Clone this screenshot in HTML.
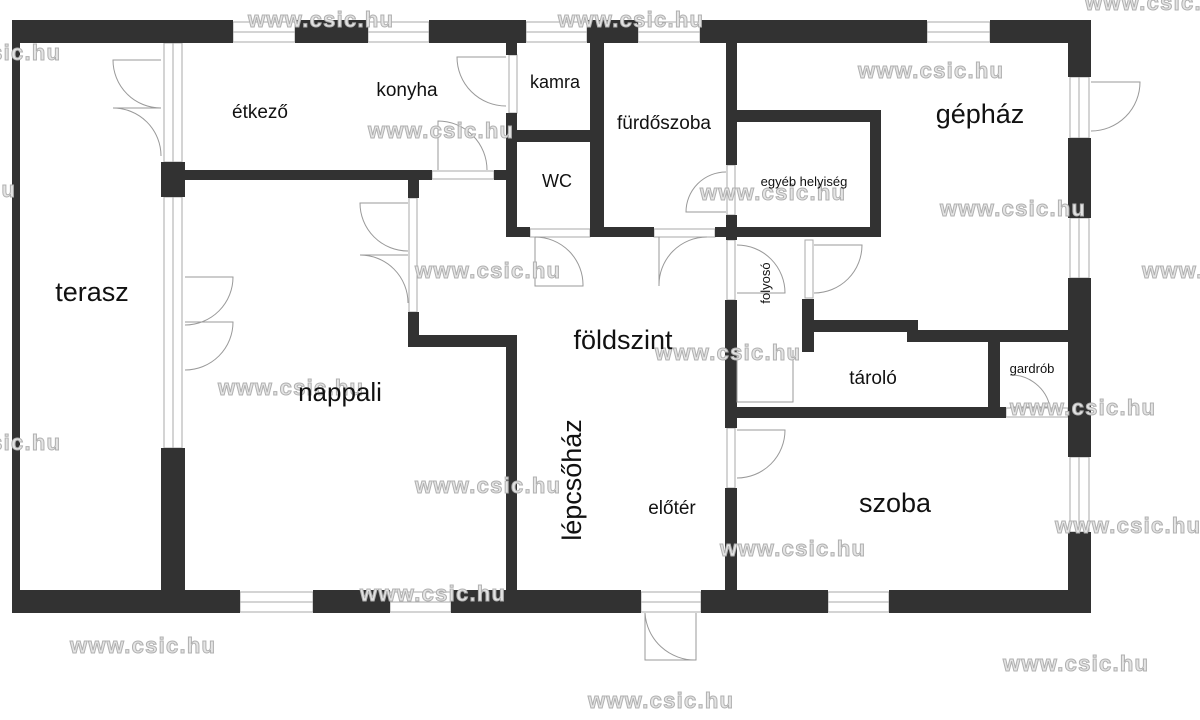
<!DOCTYPE html>
<html><head><meta charset="utf-8"><style>
html,body{margin:0;padding:0;background:#fff;}
svg{display:block;}
.w{fill:#323232;}
.win{fill:#fff;stroke:#aaa;stroke-width:1;}
.d{fill:none;stroke:#999;stroke-width:1;}
.t{font-family:"Liberation Sans",sans-serif;fill:#111;}
.wm{font-family:"Liberation Sans",sans-serif;font-weight:bold;font-size:22px;fill:#e4e4e4;stroke:#b0b0b0;stroke-width:1;}
</style></head><body>
<svg width="1200" height="720" viewBox="0 0 1200 720" xmlns="http://www.w3.org/2000/svg">
<rect width="1200" height="720" fill="#fff"/>
<g class="win">
<rect x="233" y="22" width="62" height="20"/><line x1="233" y1="32" x2="295" y2="32" stroke="#aaa"/>
<rect x="368" y="22" width="61" height="20"/><line x1="368" y1="32" x2="429" y2="32" stroke="#aaa"/>
<rect x="526" y="22" width="61" height="20"/><line x1="526" y1="32" x2="587" y2="32" stroke="#aaa"/>
<rect x="638" y="22" width="62" height="20"/><line x1="638" y1="32" x2="700" y2="32" stroke="#aaa"/>
<rect x="927" y="22" width="63" height="20"/><line x1="927" y1="32" x2="990" y2="32" stroke="#aaa"/>
<rect x="240" y="592" width="73" height="20"/><line x1="240" y1="602" x2="313" y2="602" stroke="#aaa"/>
<rect x="390" y="592" width="61" height="20"/><line x1="390" y1="602" x2="451" y2="602" stroke="#aaa"/>
<rect x="641" y="592" width="60" height="20"/><line x1="641" y1="602" x2="701" y2="602" stroke="#aaa"/>
<rect x="828" y="592" width="61" height="20"/><line x1="828" y1="602" x2="889" y2="602" stroke="#aaa"/>
<rect x="1070" y="77" width="19" height="61"/><line x1="1079" y1="77" x2="1079" y2="138" stroke="#aaa"/>
<rect x="1070" y="218" width="19" height="60"/><line x1="1079" y1="218" x2="1079" y2="278" stroke="#aaa"/>
<rect x="1070" y="457" width="19" height="75"/><line x1="1079" y1="457" x2="1079" y2="532" stroke="#aaa"/>
<rect x="164" y="43" width="18" height="119"/><line x1="173" y1="43" x2="173" y2="162" stroke="#aaa"/>
<rect x="164" y="197" width="18" height="251"/><line x1="173" y1="197" x2="173" y2="448" stroke="#aaa"/>
<rect x="509" y="55" width="8" height="58"/>
<rect x="432" y="171" width="62" height="8"/>
<rect x="530" y="229" width="60" height="8"/>
<rect x="654" y="229" width="61" height="8"/>
<rect x="409" y="198" width="8" height="114"/>
<rect x="727" y="165" width="8" height="50"/>
<rect x="727" y="240" width="8" height="60"/>
<rect x="805" y="240" width="8" height="58"/>
<rect x="727" y="428" width="8" height="60"/>
<rect x="1006" y="408" width="62" height="9"/>
</g>
<g class="w">
<rect x="12" y="20" width="221" height="23"/>
<rect x="295" y="20" width="73" height="23"/>
<rect x="429" y="20" width="97" height="23"/>
<rect x="587" y="20" width="51" height="23"/>
<rect x="700" y="20" width="227" height="23"/>
<rect x="990" y="20" width="101" height="23"/>
<rect x="12" y="20" width="8" height="593"/>
<rect x="12" y="590" width="228" height="23"/>
<rect x="313" y="590" width="77" height="23"/>
<rect x="451" y="590" width="190" height="23"/>
<rect x="701" y="590" width="127" height="23"/>
<rect x="889" y="590" width="202" height="23"/>
<rect x="1068" y="20" width="23" height="57"/>
<rect x="1068" y="138" width="23" height="80"/>
<rect x="1068" y="278" width="23" height="179"/>
<rect x="1068" y="532" width="23" height="81"/>
<rect x="161" y="162" width="24" height="35"/>
<rect x="161" y="448" width="24" height="145"/>
<rect x="185" y="170" width="247" height="10"/>
<rect x="494" y="170" width="15" height="10"/>
<rect x="408" y="180" width="11" height="18"/>
<rect x="408" y="312" width="11" height="35"/>
<rect x="408" y="335" width="109" height="12"/>
<rect x="506" y="335" width="11" height="258"/>
<rect x="506" y="43" width="11" height="12"/>
<rect x="506" y="113" width="11" height="124"/>
<rect x="506" y="130" width="94" height="12"/>
<rect x="506" y="227" width="24" height="10"/>
<rect x="590" y="227" width="64" height="10"/>
<rect x="590" y="43" width="14" height="194"/>
<rect x="715" y="227" width="166" height="10"/>
<rect x="726" y="43" width="11" height="122"/>
<rect x="726" y="215" width="11" height="25"/>
<rect x="737" y="110" width="144" height="12"/>
<rect x="870" y="110" width="11" height="127"/>
<rect x="725" y="300" width="12" height="128"/>
<rect x="725" y="488" width="12" height="105"/>
<rect x="802" y="299" width="12" height="53"/>
<rect x="814" y="320" width="104" height="12"/>
<rect x="907" y="330" width="161" height="12"/>
<rect x="988" y="342" width="12" height="70"/>
<rect x="733" y="407" width="273" height="11"/>
</g>
<g class="d">
<path d="M161,60 H113 A48,48 0 0 0 161,108"/>
<path d="M161,108 H113 A48,48 0 0 1 161,156"/>
<path d="M408,203 H360 A48,48 0 0 0 408,251"/>
<path d="M408,255 H360 A48,48 0 0 1 408,303"/>
<path d="M185,277 H233 A48,48 0 0 1 185,325"/>
<path d="M185,322 H233 A48,48 0 0 1 185,370"/>
<path d="M506,57 H457 A49,49 0 0 0 506,106"/>
<path d="M438,170 V121 A49,49 0 0 1 487,170"/>
<path d="M535,237 V286 H583 A48,48 0 0 0 535,237"/>
<path d="M659,237 V286 A48,48 0 0 1 707,237"/>
<path d="M726,212 H686 A40,40 0 0 1 726,172"/>
<path d="M737,245 A48,48 0 0 1 785,293 H737"/>
<path d="M814,245 H862 A48,48 0 0 1 814,293"/>
<path d="M1091,82 H1140 A49,49 0 0 1 1091,131"/>
<path d="M737,350 V402 H793 V350"/>
<path d="M737,430 H785 A48,48 0 0 1 737,478"/>
<path d="M1010,375 A40,40 0 0 1 1050,407 H1010"/>
<path d="M645,613 V660 H696 V613 M645,613 A50,50 0 0 0 696,660"/>
</g>
<g class="wm">
<text x="248" y="27" textLength="145">www.csic.hu</text>
<text x="558" y="27" textLength="145">www.csic.hu</text>
<text x="1085" y="10" textLength="145">www.csic.hu</text>
<text x="-85" y="60" textLength="145">www.csic.hu</text>
<text x="858" y="78" textLength="145">www.csic.hu</text>
<text x="368" y="138" textLength="145">www.csic.hu</text>
<text x="-130" y="197" textLength="145">www.csic.hu</text>
<text x="700" y="200" textLength="145">www.csic.hu</text>
<text x="940" y="216" textLength="145">www.csic.hu</text>
<text x="415" y="278" textLength="145">www.csic.hu</text>
<text x="1142" y="278" textLength="145">www.csic.hu</text>
<text x="655" y="360" textLength="145">www.csic.hu</text>
<text x="218" y="395" textLength="145">www.csic.hu</text>
<text x="1010" y="415" textLength="145">www.csic.hu</text>
<text x="-85" y="450" textLength="145">www.csic.hu</text>
<text x="415" y="493" textLength="145">www.csic.hu</text>
<text x="1055" y="533" textLength="145">www.csic.hu</text>
<text x="720" y="556" textLength="145">www.csic.hu</text>
<text x="360" y="601" textLength="145">www.csic.hu</text>
<text x="70" y="653" textLength="145">www.csic.hu</text>
<text x="1003" y="671" textLength="145">www.csic.hu</text>
<text x="588" y="708" textLength="145">www.csic.hu</text>
</g>
<g class="t">
<text x="92" y="301" font-size="27" text-anchor="middle">terasz</text>
<text x="260" y="118" font-size="19" text-anchor="middle">étkező</text>
<text x="407" y="96" font-size="19" text-anchor="middle">konyha</text>
<text x="555" y="88" font-size="18" text-anchor="middle">kamra</text>
<text x="557" y="187" font-size="18" text-anchor="middle">WC</text>
<text x="664" y="129" font-size="19" text-anchor="middle">fürdőszoba</text>
<text x="980" y="123" font-size="27" text-anchor="middle">gépház</text>
<text x="804" y="186" font-size="13" text-anchor="middle">egyéb helyiség</text>
<text transform="translate(770,283) rotate(-90)" font-size="13" text-anchor="middle">folyosó</text>
<text x="623" y="349" font-size="27" text-anchor="middle">földszint</text>
<text x="873" y="384" font-size="19" text-anchor="middle">tároló</text>
<text x="1032" y="373" font-size="13" text-anchor="middle">gardrób</text>
<text x="340" y="401" font-size="26" text-anchor="middle">nappali</text>
<text transform="translate(581,480) rotate(-90)" font-size="27" text-anchor="middle">lépcsőház</text>
<text x="672" y="514" font-size="19" text-anchor="middle">előtér</text>
<text x="895" y="512" font-size="27" text-anchor="middle">szoba</text>
</g>
</svg>
</body></html>
